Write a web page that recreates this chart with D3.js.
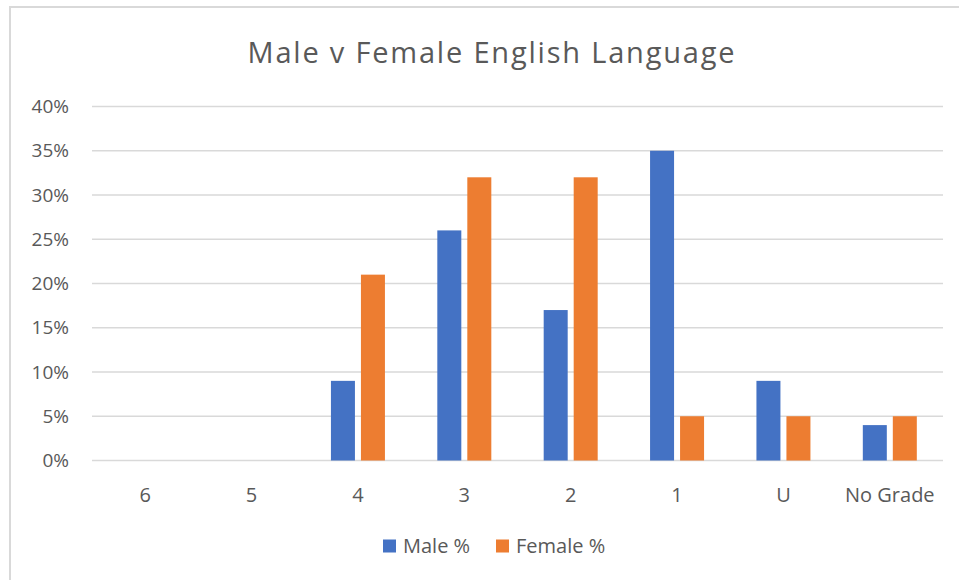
<!doctype html>
<html>
<head>
<meta charset="utf-8">
<title>Male v Female English Language</title>
<script src="https://d3js.org/d3.v7.min.js"></script>
<style>
  body { margin: 0; background: #fff; }
  text { font-family: "Open Sans", "Noto Sans", sans-serif; fill: #595959; }
</style>
</head>
<body>
<script>

// chart data
var grades = ['6', '5', '4', '3', '2', '1', 'U', 'No Grade'];
var malePct = [0, 0, 9, 26, 17, 35, 9, 4];
var femalePct = [0, 0, 21, 32, 32, 5, 5, 5];
var seriesNames = ['Male %', 'Female %'];
var seriesColors = ['#4472c4', '#ed7d31'];
var yTicks = [0, 5, 10, 15, 20, 25, 30, 35, 40];

var width = 959, height = 580;
var margin = {top: 106.5, right: 16, bottom: 119.5, left: 92};

var svg = d3.select('body').append('svg')
  .attr('width', width)
  .attr('height', height);

// outer chart border (cut off at right and bottom like the screenshot)
svg.append('rect')
  .attr('x', 10).attr('y', 7)
  .attr('width', 960).attr('height', 590)
  .attr('fill', 'none')
  .attr('stroke', '#d9d9d9')
  .attr('stroke-width', 2);

var x = d3.scaleBand()
  .domain(grades)
  .range([margin.left, width - margin.right]);

var y = d3.scaleLinear()
  .domain([0, 40])
  .range([height - margin.bottom, margin.top]);

// gridlines
svg.append('g').selectAll('line')
  .data(yTicks)
  .enter().append('line')
  .attr('x1', margin.left)
  .attr('x2', width - margin.right)
  .attr('y1', function (d) { return y(d); })
  .attr('y2', function (d) { return y(d); })
  .attr('stroke', '#d9d9d9')
  .attr('stroke-width', 1.5);

// y tick labels
svg.append('g').selectAll('text')
  .data(yTicks)
  .enter().append('text')
  .attr('x', 69)
  .attr('y', function (d) { return y(d); })
  .attr('dy', '0.35em')
  .attr('text-anchor', 'end')
  .style('font-size', '19px')
  .text(function (d) { return d + '%'; });

// bars
var barW = 24, gap = 6;
var series = [malePct, femalePct];
series.forEach(function (vals, s) {
  svg.append('g').selectAll('rect')
    .data(vals)
    .enter().append('rect')
    .attr('x', function (d, i) {
      var c = x(grades[i]) + x.bandwidth() / 2;
      return s === 0 ? c - gap / 2 - barW : c + gap / 2;
    })
    .attr('y', function (d) { return y(d); })
    .attr('width', barW)
    .attr('height', function (d) { return y(0) - y(d); })
    .attr('fill', seriesColors[s]);
});

// category labels
svg.append('g').selectAll('text')
  .data(grades)
  .enter().append('text')
  .attr('x', function (d) { return x(d) + x.bandwidth() / 2; })
  .attr('y', 501.5)
  .attr('text-anchor', 'middle')
  .style('font-size', '20px')
  .text(function (d) { return d; });

// title
svg.append('text')
  .attr('x', 491)
  .attr('y', 62.5)
  .attr('text-anchor', 'middle')
  .attr('textLength', 487)
  .attr('lengthAdjust', 'spacing')
  .style('font-size', '29px')
  .text('Male v Female English Language');

// legend
var legendX = [383, 496];
seriesNames.forEach(function (name, s) {
  svg.append('rect')
    .attr('x', legendX[s]).attr('y', 539.5)
    .attr('width', 13).attr('height', 13)
    .attr('fill', seriesColors[s]);
  svg.append('text')
    .attr('x', legendX[s] + 20)
    .attr('y', 552.5)
    .style('font-size', '20px')
    .text(name);
});

</script>
</body>
</html>
